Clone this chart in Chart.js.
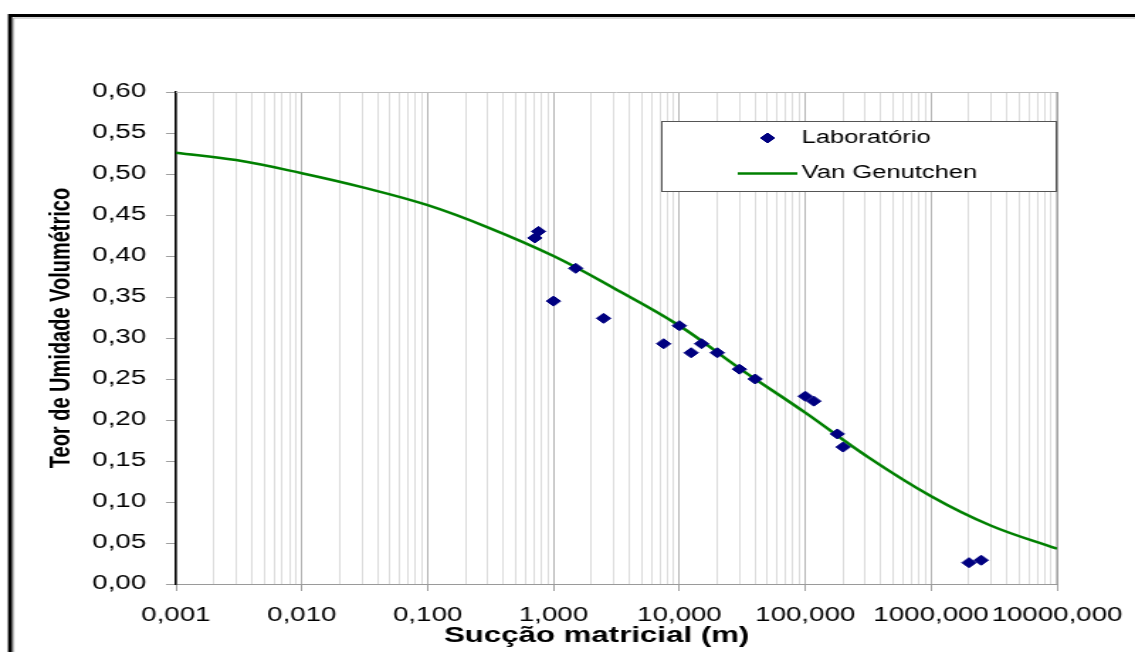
<!DOCTYPE html>
<html>
<head>
<meta charset="utf-8">
<script src="https://cdn.jsdelivr.net/npm/chart.js@4.4.1/dist/chart.umd.min.js"></script>
<style>
html,body{margin:0;padding:0;background:#fff;}
/* o gráfico original é esticado na horizontal: desenha em 800px e estica para 1135px */
#grafico{display:block;width:1135px !important;height:652px !important;}
</style>
</head>
<body>
<canvas id="grafico" width="800" height="652" style="width:1135px;height:652px"></canvas>
<script>
// Pontos de laboratório (sucção em m, teor volumétrico)
var succaoLab = [0.71, 0.76, 1.0, 1.5, 2.5, 7.5, 10, 12.4, 15, 20, 30, 40, 100, 117, 180, 200, 2000, 2500];
var teorLab   = [0.422, 0.430, 0.345, 0.385, 0.324, 0.293, 0.315, 0.282, 0.293, 0.282, 0.262, 0.250, 0.229, 0.223, 0.183, 0.167, 0.026, 0.029];

// Curva ajustada de Van Genutchen
var succaoVG = [0.001, 0.003, 0.01, 0.03, 0.1, 0.3, 1, 3, 10, 30, 100, 300, 1000, 3000, 10000];
var teorVG   = [0.526, 0.517, 0.501, 0.484, 0.462, 0.435, 0.400, 0.361, 0.315, 0.263, 0.209, 0.157, 0.107, 0.071, 0.043];

// décadas do eixo x (0,001 ... 10000,000)
var decadas = [-3, -2, -1, 0, 1, 2, 3, 4];

var tituloX = 'Sucção matricial (m)';
var tituloY = 'Teor de Umidade Volumétrico';

var pontosLab = [];
for (var i = 0; i < succaoLab.length; i++) {
	pontosLab.push({x: succaoLab[i], y: teorLab[i]});
}
var pontosVG = [];
for (var i = 0; i < succaoVG.length; i++) {
	pontosVG.push({x: succaoVG[i], y: teorVG[i]});
}

// ticks 1..9 em cada década (linhas de grade secundárias)
var ticksX = [];
for (var d = 0; d < decadas.length - 1; d++) {
	for (var m = 1; m <= 9; m++) {
		ticksX.push(parseFloat((m * Math.pow(10, decadas[d])).toPrecision(6)));
	}
}
ticksX.push(Math.pow(10, decadas[decadas.length - 1]));

function ehDecada(v) {
	var l = Math.log10(v);
	return Math.abs(l - Math.round(l)) < 1e-9;
}
function virgula(v, casas) {
	return v.toFixed(casas).replace('.', ',');
}

var fonte = '"Liberation Sans", Arial, sans-serif';

var moldura = {
	id: 'moldura',
	beforeDraw: function(chart) {
		var ctx = chart.ctx;
		ctx.save();
		ctx.fillStyle = '#fff';
		ctx.fillRect(0, 0, chart.width, chart.height);
		// moldura dupla
		ctx.strokeStyle = '#000';
		ctx.lineWidth = 3;
		ctx.beginPath();
		ctx.moveTo(5.6, 15.5); ctx.lineTo(chart.width, 15.5);
		ctx.moveTo(7.1, 14); ctx.lineTo(7.1, chart.height);
		ctx.stroke();
		ctx.strokeStyle = '#b0b0b0';
		ctx.lineWidth = 1;
		ctx.beginPath();
		ctx.moveTo(9.4, 18); ctx.lineTo(chart.width, 18);
		ctx.moveTo(9.6, 18); ctx.lineTo(9.6, chart.height);
		ctx.stroke();
		ctx.restore();
	},
	beforeDatasetsDraw: function(chart) {
		var a = chart.chartArea, ctx = chart.ctx;
		ctx.save();
		ctx.lineWidth = 1;
		ctx.strokeStyle = '#bdbdbd';
		ctx.beginPath();
		ctx.moveTo(a.left, a.top + 0.5); ctx.lineTo(a.right, a.top + 0.5);
		ctx.stroke();
		ctx.strokeStyle = '#8c8c8c';
		ctx.beginPath();
		ctx.moveTo(a.right, a.top); ctx.lineTo(a.right, a.bottom);
		ctx.stroke();
		ctx.restore();
	},
	afterDatasetsDraw: function(chart) {
		var a = chart.chartArea, ctx = chart.ctx;
		var ds = chart.data.datasets;
		var x0 = a.right - 279, y0 = a.top + 29, w = 278, h = 70;
		ctx.save();
		ctx.fillStyle = '#fff';
		ctx.fillRect(x0, y0, w, h);
		ctx.strokeStyle = '#555';
		ctx.lineWidth = 1;
		ctx.strokeRect(x0 + 0.5, y0 + 0.5, w, h);
		ctx.font = '18px ' + fonte;
		ctx.textBaseline = 'middle';
		// Laboratório
		ctx.fillStyle = ds[0].backgroundColor;
		ctx.strokeStyle = ds[0].borderColor;
		ctx.beginPath();
		ctx.moveTo(x0 + 70, y0 + 17); ctx.lineTo(x0 + 75, y0 + 12);
		ctx.lineTo(x0 + 80, y0 + 17); ctx.lineTo(x0 + 75, y0 + 22);
		ctx.closePath(); ctx.fill(); ctx.stroke();
		ctx.fillStyle = '#000';
		ctx.fillText(ds[0].label, x0 + 99, y0 + 17);
		// Van Genutchen
		ctx.strokeStyle = ds[1].borderColor;
		ctx.lineWidth = 2.5;
		ctx.beginPath();
		ctx.moveTo(x0 + 54, y0 + 52.5); ctx.lineTo(x0 + 96, y0 + 52.5);
		ctx.stroke();
		ctx.fillText(ds[1].label, x0 + 99, y0 + 52.5);
		ctx.restore();
	},
	afterDraw: function(chart) {
		// títulos dos eixos
		var a = chart.chartArea, ctx = chart.ctx;
		ctx.save();
		ctx.fillStyle = '#000';
		ctx.textAlign = 'center';
		ctx.textBaseline = 'middle';
		ctx.font = 'bold 22px ' + fonte;
		ctx.fillText(tituloX, (a.left + a.right) / 2 - 14, a.bottom + 52);
		ctx.translate(43, (a.top + a.bottom) / 2 - 10);
		ctx.rotate(-Math.PI / 2);
		ctx.font = 'bold 20px ' + fonte;
		ctx.fillText(tituloY, 0, 0);
		ctx.restore();
	}
};

var grafico = new Chart(document.getElementById('grafico'), {
	type: 'scatter',
	data: {
		datasets: [{
			label: 'Laboratório',
			data: pontosLab,
			showLine: false,
			pointStyle: 'rectRot',
			pointRadius: 5,
			pointBorderWidth: 1,
			backgroundColor: '#000080',
			borderColor: '#000080'
		}, {
			label: 'Van Genutchen',
			data: pontosVG,
			showLine: true,
			pointRadius: 0,
			borderColor: '#008000',
			backgroundColor: '#008000',
			borderWidth: 2.5,
			tension: 0.4
		}]
	},
	options: {
		responsive: false,
		devicePixelRatio: 1,
		animation: false,
		events: [],
		layout: {padding: {left: 0, right: 55, top: 92, bottom: 0}},
		plugins: {legend: {display: false}, tooltip: {enabled: false}},
		scales: {
			x: {
				type: 'logarithmic',
				min: 0.001,
				max: 10000,
				afterBuildTicks: function(scale) {
					scale.ticks = ticksX.map(function(v) { return {value: v, major: ehDecada(v)}; });
				},
				afterFit: function(scale) {
					scale.height = 68;
					scale.paddingLeft = 0;
					scale.paddingRight = 0;
				},
				grid: {
					color: function(c) { return c.tick && ehDecada(c.tick.value) ? '#b4b4b4' : '#dcdcdc'; },
					tickColor: function(c) { return c.tick && ehDecada(c.tick.value) ? '#a0a0a0' : 'rgba(0,0,0,0)'; },
					lineWidth: 1,
					tickLength: 7
				},
				border: {color: '#9a9a9a', width: 1},
				ticks: {
					autoSkip: false,
					maxRotation: 0,
					minRotation: 0,
					padding: 13,
					color: '#000',
					font: {family: fonte, size: 19.5},
					callback: function(v) { return ehDecada(v) ? virgula(v, 3) : ''; }
				},
				title: {display: false}
			},
			y: {
				min: 0,
				max: 0.6,
				afterFit: function(scale) { scale.width = 124; },
				grid: {drawOnChartArea: false, tickLength: 7, tickColor: '#a0a0a0'},
				border: {color: '#000', width: 1.5},
				ticks: {
					stepSize: 0.05,
					padding: 14,
					color: '#000',
					font: {family: fonte, size: 19.5},
					callback: function(v) { return virgula(v, 2); }
				},
				title: {display: false}
			}
		}
	},
	plugins: [moldura]
});
</script>
</body>
</html>
